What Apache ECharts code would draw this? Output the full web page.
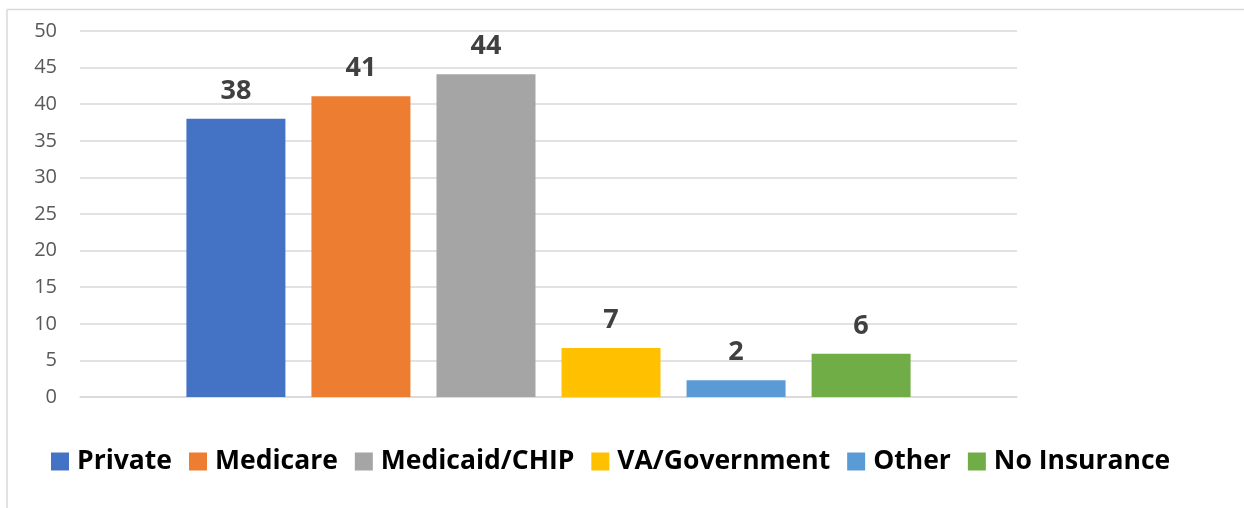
<!DOCTYPE html>
<html>
<head>
<meta charset="utf-8">
<script src="https://cdn.jsdelivr.net/npm/echarts@6/dist/echarts.min.js"></script>
<style>
html,body{margin:0;padding:0;background:#fff;}
#chart{width:1244px;height:508px;}
</style>
</head>
<body>
<div id="chart"></div>
<script>
const seriesNames = ['Private', 'Medicare', 'Medicaid/CHIP', 'VA/Government', 'Other', 'No Insurance'];
const seriesValues = [38, 41.1, 44.1, 6.7, 2.3, 5.9];
const seriesColors = ['#4472C4', '#ED7D31', '#A5A5A5', '#FFC000', '#5B9BD5', '#70AD47'];
const categories = [''];
const yTicks = [0, 5, 10, 15, 20, 25, 30, 35, 40, 45, 50];

const chart = echarts.init(document.getElementById('chart'), null, {renderer: 'canvas'});
const font = '"Open Sans", sans-serif';

const series = seriesNames.map((name, i) => ({
  name: name,
  type: 'bar',
  data: [seriesValues[i]],
  barWidth: 99,
  barGap: '26.3%',
  itemStyle: {color: seriesColors[i]},
  label: {
    show: true,
    position: 'top',
    distance: 14,
    fontFamily: font,
    fontWeight: 'bold',
    fontSize: 27,
    color: '#404040',
    formatter: p => Math.round(p.value)
  }
}));

chart.setOption({
  animation: false,
  backgroundColor: '#ffffff',
  textStyle: {fontFamily: font},
  graphic: [
    {type: 'line', shape: {x1: 7, y1: 9.5, x2: 1244, y2: 9.5}, style: {stroke: '#d9d9d9', lineWidth: 1.5}},
    {type: 'line', shape: {x1: 7, y1: 9.5, x2: 7, y2: 508}, style: {stroke: '#d9d9d9', lineWidth: 1.5}}
  ],
  grid: {left: 80, right: 227, top: 31, bottom: 111, containLabel: false},
  legend: {
    left: 51,
    top: 448,
    padding: 0,
    itemWidth: 18,
    itemHeight: 18,
    itemGap: 17,
    icon: 'rect',
    textStyle: {fontFamily: font, fontWeight: 'bold', fontSize: 26.5, color: '#000000', padding: [0, 0, 0, 3]},
    data: seriesNames
  },
  xAxis: {
    type: 'category',
    data: categories,
    axisLine: {show: true, lineStyle: {color: '#d9d9d9', width: 1.5}},
    axisTick: {show: false},
    axisLabel: {show: false}
  },
  yAxis: {
    type: 'value',
    min: yTicks[0],
    max: yTicks[yTicks.length - 1],
    interval: 5,
    axisLine: {show: false},
    axisTick: {show: false},
    axisLabel: {fontFamily: font, fontSize: 20, color: '#595959', margin: 23},
    splitLine: {lineStyle: {color: '#d9d9d9', width: 1.5}}
  },
  series: series
});
</script>
</body>
</html>
